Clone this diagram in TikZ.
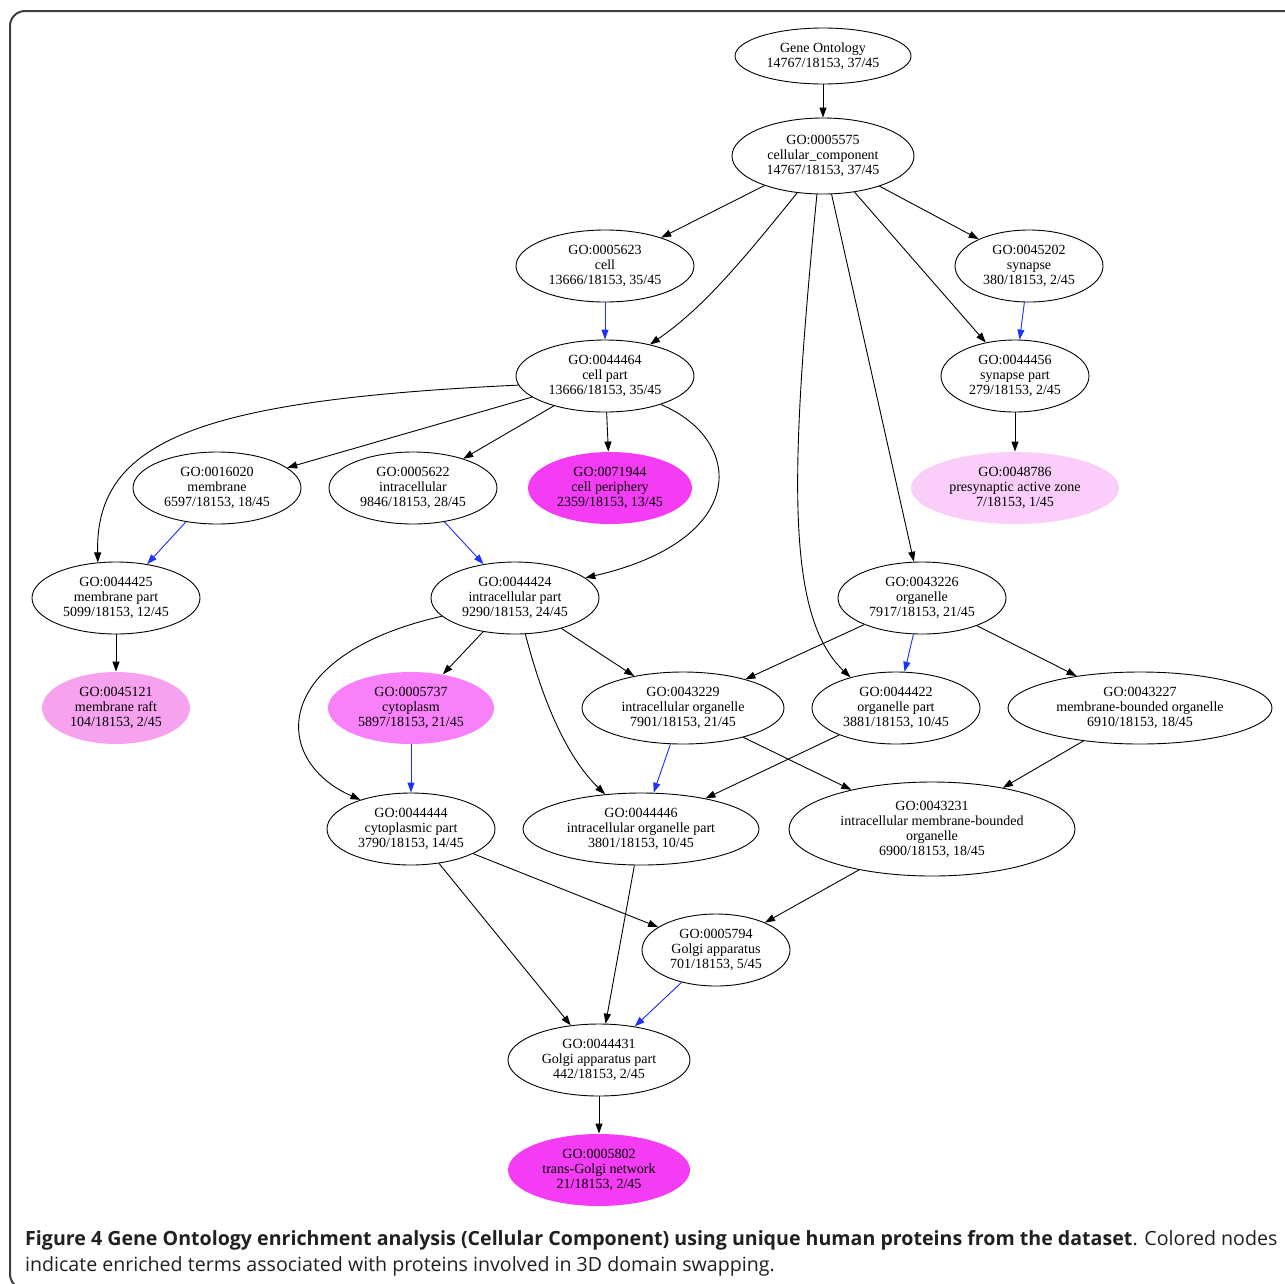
\documentclass[tikz,border=0pt]{standalone}
\usepackage{fontspec}
\setmainfont{Liberation Serif}
\newfontfamily\capfont{Open Sans}
\usepackage{tikz}
\usetikzlibrary{arrows.meta,shapes.geometric}
\definecolor{goblue}{RGB}{30,50,255}
\definecolor{enrA}{RGB}{244,60,244}
\definecolor{enrB}{RGB}{248,128,248}
\definecolor{enrC}{RGB}{246,162,238}
\definecolor{enrD}{RGB}{250,205,250}
\definecolor{capgray}{RGB}{35,31,32}
\tikzstyle{arrow} = [line width=0.9pt,->,>={Triangle[length=10pt,width=7pt]}]

\begin{document}
\begin{tikzpicture}[x=1pt,y=-1pt]
                \tikzstyle{term}=[ellipse,draw,line width=0.9pt,inner sep=0pt,minimum height=72pt,align=center,font=\fontsize{14}{15}\selectfont]
                \tikzstyle{enriched}=[term,draw=none]
                \tikzstyle{isa}=[arrow]
                \tikzstyle{partof}=[arrow,draw=goblue,fill=goblue]

                \useasboundingbox (0,0) rectangle (1285,1283);
                \begin{scope}
                \clip (0,0) rectangle (1285,1283);
                \draw [rounded corners=15pt,line width=2pt,draw=black!75] (10,11) rectangle (1310,1289);
                \end{scope}

                % top of the ontology
                \node [term,minimum width=176pt,minimum height=56pt] (root) at (823,56)
                {Gene Ontology\\14767/18153, 37/45};
                \node [term,minimum width=182pt,minimum height=76pt] (cc) at (823,156)
                {GO:0005575\\cellular\_component\\14767/18153, 37/45};
                \node [term,minimum width=178pt] (cell) at (605,266)
                {GO:0005623\\cell\\13666/18153, 35/45};
                \node [term,minimum width=148pt] (synapse) at (1029,266)
                {GO:0045202\\synapse\\380/18153, 2/45};
                \node [term,minimum width=178pt] (cellpart) at (605,376)
                {GO:0044464\\cell part\\13666/18153, 35/45};
                \node [term,minimum width=148pt] (synpart) at (1015,376)
                {GO:0044456\\synapse part\\279/18153, 2/45};

                % third level
                \node [term,minimum width=168pt] (membrane) at (217,488)
                {GO:0016020\\membrane\\6597/18153, 18/45};
                \node [term,minimum width=168pt] (intra) at (413,488)
                {GO:0005622\\intracellular\\9846/18153, 28/45};
                \node [enriched,fill=enrA,minimum width=164pt] (periph) at (610,488)
                {GO:0071944\\cell periphery\\2359/18153, 13/45};
                \node [enriched,fill=enrD,minimum width=208pt] (activez) at (1015,488)
                {GO:0048786\\presynaptic active zone\\7/18153, 1/45};
                \node [term,minimum width=168pt] (mempart) at (116,598)
                {GO:0044425\\membrane part\\5099/18153, 12/45};
                \node [term,minimum width=168pt] (intrapart) at (515,598)
                {GO:0044424\\intracellular part\\9290/18153, 24/45};
                \node [term,minimum width=168pt] (organelle) at (922,598)
                {GO:0043226\\organelle\\7917/18153, 21/45};

                % organelles
                \node [enriched,fill=enrC,minimum width=148pt] (raft) at (116,708)
                {GO:0045121\\membrane raft\\104/18153, 2/45};
                \node [enriched,fill=enrB,minimum width=166pt] (cyto) at (411,708)
                {GO:0005737\\cytoplasm\\5897/18153, 21/45};
                \node [term,minimum width=202pt] (intraorg) at (683,708)
                {GO:0043229\\intracellular organelle\\7901/18153, 21/45};
                \node [term,minimum width=168pt] (orgpart) at (896,708)
                {GO:0044422\\organelle part\\3881/18153, 10/45};
                \node [term,minimum width=264pt] (membound) at (1140,708)
                {GO:0043227\\membrane-bounded organelle\\6910/18153, 18/45};
                \node [term,minimum width=168pt] (cytopart) at (411,829)
                {GO:0044444\\cytoplasmic part\\3790/18153, 14/45};
                \node [term,minimum width=236pt] (intraorgpart) at (641,829)
                {GO:0044446\\intracellular organelle part\\3801/18153, 10/45};
                \node [term,minimum width=286pt,minimum height=94pt] (intramem) at (932,829)
                {GO:0043231\\intracellular membrane-bounded\\organelle\\6900/18153, 18/45};

                % golgi
                \node [term,minimum width=148pt] (golgi) at (716,950)
                {GO:0005794\\Golgi apparatus\\701/18153, 5/45};
                \node [term,minimum width=182pt] (golgipart) at (599,1060)
                {GO:0044431\\Golgi apparatus part\\442/18153, 2/45};
                \node [enriched,fill=enrA,minimum width=182pt] (tgn) at (599,1170)
                {GO:0005802\\trans-Golgi network\\21/18153, 2/45};

                % edges
                \draw [isa] (root) -- (cc);
                \draw [isa] (cc) -- (cell);
                \draw [isa] (cc.-125) .. controls (735,270) and (700,310) .. (cellpart.35);
                \draw [isa] (cc) -- (synapse);
                \draw [isa] (cc) -- (synpart);
                \draw [isa] (cc) -- (organelle);
                \draw [isa] (cc.-99) .. controls (790,470) and (785,615) .. (orgpart.146);
                \draw [partof] (cell) -- (cellpart);
                \draw [partof] (synapse) -- (synpart);
                \draw [isa] (cellpart.-174) .. controls (200,400) and (95,440) .. (mempart.117);
                \draw [isa] (cellpart) -- (membrane);
                \draw [isa] (cellpart) -- (intra);
                \draw [isa] (cellpart) -- (periph);
                \draw [isa] (cellpart.-27) .. controls (745,440) and (750,540) .. (intrapart.16);
                \draw [isa] (synpart) -- (activez);
                \draw [partof] (membrane) -- (mempart);
                \draw [partof] (intra) -- (intrapart);
                \draw [isa] (mempart) -- (raft);
                \draw [isa] (intrapart) -- (cyto);
                \draw [isa] (intrapart.-166) .. controls (270,655) and (270,760) .. (cytopart.150);
                \draw [isa] (intrapart.-74) .. controls (545,710) and (570,760) .. (intraorgpart.136);
                \draw [isa] (intrapart) -- (intraorg);
                \draw [isa] (organelle) -- (intraorg);
                \draw [partof] (organelle) -- (orgpart);
                \draw [isa] (organelle) -- (membound);
                \draw [partof] (cyto) -- (cytopart);
                \draw [partof] (intraorg) -- (intraorgpart);
                \draw [isa] (intraorg) -- (intramem);
                \draw [isa] (orgpart) -- (intraorgpart);
                \draw [isa] (membound) -- (intramem);
                \draw [isa] (cytopart) -- (golgi);
                \draw [isa] (cytopart) -- (golgipart);
                \draw [isa] (intraorgpart) -- (golgipart);
                \draw [isa] (intramem) -- (golgi);
                \draw [partof] (golgi) -- (golgipart);
                \draw [isa] (golgipart) -- (tgn);

                % caption
                \node [anchor=base west,inner sep=0pt,text=capgray,font=\capfont\fontsize{19.6}{26}\selectfont] (capA) at (25,1245)
                {\textbf{Figure 4 Gene Ontology enrichment analysis (Cellular Component) using unique human proteins from the dataset}. Colored nodes};
                \node [anchor=base west,inner sep=0pt,text=capgray,font=\capfont\fontsize{19.6}{26}\selectfont] (capB) at (25,1271)
                {indicate enriched terms associated with proteins involved in 3D domain swapping.};
            \end{tikzpicture}
\end{document}
